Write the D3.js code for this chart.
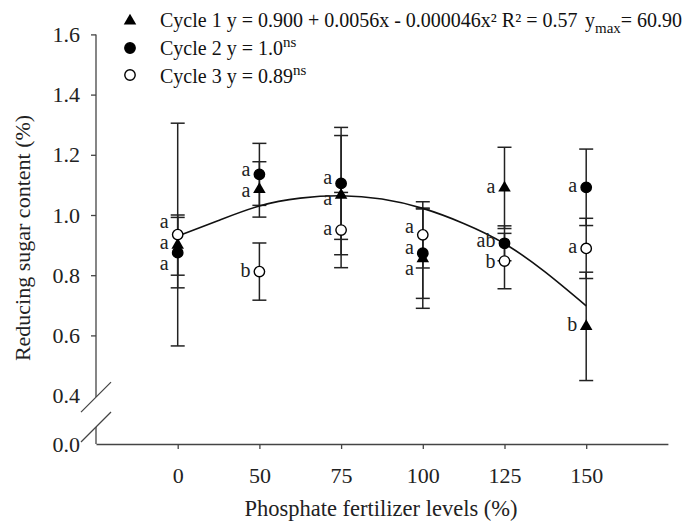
<!DOCTYPE html>
<html>
<head>
<meta charset="utf-8">
<script src="https://cdn.jsdelivr.net/npm/d3@7"></script>
<style>
  body { margin: 0; background: #fff; }
  svg { display: block; font-family: "Liberation Serif", "Times New Roman", serif; }
  .axis path, .axis line { stroke: #444; stroke-width: 1.3; }
  .axis text { font-size: 22px; fill: #222; font-family: "Liberation Serif", serif; }
</style>
</head>
<body>
<div id="chart"></div>
<script>
// ---------------------------- DATA ----------------------------//
const levels = [0, 50, 75, 100, 125, 150];
const levelLabels = ["0", "50", "75", "100", "125", "150"];
const yTicks = [0, 0.4, 0.6, 0.8, 1.0, 1.2, 1.4, 1.6];

const cycle1 = [0.90, 1.085, 1.066, 0.855, 1.09, 0.63];
const cycle1Err = [0.10, 0.092, 0.198, 0.165, 0.135, 0.18];
const cycle1Letters = ["a", "a", "a", "a", "a", "b"];

const cycle2 = [0.875, 1.135, 1.105, 0.873, 0.906, 1.092];
const cycle2Err = [0.117, 0.103, 0.186, 0.15, 0.058, 0.127];
const cycle2Letters = ["a", "a", "a", "a", "ab", "a"];

const cycle3 = [0.935, 0.812, 0.95, 0.934, 0.847, 0.889];
const cycle3Err = [0.37, 0.095, 0.125, 0.11, 0.092, 0.10];
const cycle3Letters = ["a", "b", "a", "a", "b", "a"];

// regression curve of cycle 1
const fitX = [0, 25, 50, 62.5, 75, 87.5, 100, 112.5, 125, 137.5, 150];
const fitY = [0.93, 0.982, 1.03, 1.056, 1.064, 1.053, 1.022, 0.972, 0.905, 0.81, 0.698];

// --------------------------- SETUP ----------------------------//
const width = 687, height = 523;
const x0 = 96, step = 81.7;      // one category step in px
const yTop = 34.4, yMid = 395.6, yBase = 444;

const svg = d3.select("#chart").append("svg")
    .attr("width", width)
    .attr("height", height);

// 0 sits one step left of 50, after that 25 units per step
const xScale = d3.scaleLinear()
    .domain([-50, 0, 50, 175])
    .range([x0, x0 + step, x0 + 2 * step, x0 + 7 * step]);

// broken axis: 0.0 .. 0.4 squeezed at the bottom
const yScale = d3.scaleLinear()
    .domain([0, 0.4, 1.6])
    .range([yBase, yMid, yTop]);

// ---------------------------- AXES ----------------------------//
svg.append("g")
    .attr("class", "axis")
    .attr("transform", "translate(0," + yBase + ")")
    .call(d3.axisBottom(xScale)
        .tickValues(levels)
        .tickFormat((d, i) => levelLabels[i])
        .tickSize(5)
        .tickSizeOuter(0)
        .tickPadding(18));

const yAxis = svg.append("g")
    .attr("class", "axis")
    .attr("transform", "translate(" + x0 + ",0)")
    .call(d3.axisLeft(yScale)
        .tickValues(yTicks)
        .tickFormat(d3.format(".1f"))
        .tickSize(5)
        .tickPadding(11));
yAxis.select(".domain").remove();
yAxis.selectAll(".tick")
    .filter(d => d < 0.5)
    .select("line").remove();

// axis line with the break
const brk1 = yScale(0.4) + 1.5, brk2 = yScale(0) - 17;
svg.append("line")
    .attr("x1", x0).attr("x2", x0)
    .attr("y1", yScale(1.6)).attr("y2", brk1)
    .attr("stroke", "#444").attr("stroke-width", 1.3);
svg.append("line")
    .attr("x1", x0).attr("x2", x0)
    .attr("y1", brk2).attr("y2", yBase)
    .attr("stroke", "#444").attr("stroke-width", 1.3);
[brk1, brk2].forEach(function(b) {
    svg.append("line")
        .attr("x1", x0 - 15).attr("y1", b + 15)
        .attr("x2", x0 + 15).attr("y2", b - 15)
        .attr("stroke", "#444").attr("stroke-width", 1.3);
});

svg.append("text")
    .attr("transform", "translate(30,238) rotate(-90)")
    .attr("text-anchor", "middle")
    .style("font-size", "22px")
    .attr("fill", "#222")
    .text("Reducing sugar content (%)");

svg.append("text")
    .attr("x", 381)
    .attr("y", 516)
    .attr("text-anchor", "middle")
    .style("font-size", "22.5px")
    .attr("fill", "#222")
    .text("Phosphate fertilizer levels (%)");

// --------------------------- SERIES ---------------------------//
const series = [
    { id: "c1", shape: "tri", vals: cycle1, err: cycle1Err, letters: cycle1Letters },
    { id: "c2", shape: "dot", vals: cycle2, err: cycle2Err, letters: cycle2Letters },
    { id: "c3", shape: "open", vals: cycle3, err: cycle3Err, letters: cycle3Letters }
];

// error bars
const cap = 7;
series.forEach(function(s) {
    const g = svg.append("g").attr("class", "err-" + s.id)
        .attr("stroke", "#222").attr("stroke-width", 1.5);
    levels.forEach(function(lv, i) {
        const xx = xScale(lv);
        const hi = yScale(s.vals[i] + s.err[i]);
        const lo = yScale(s.vals[i] - s.err[i]);
        g.append("line").attr("x1", xx).attr("x2", xx).attr("y1", hi).attr("y2", lo);
        g.append("line").attr("x1", xx - cap).attr("x2", xx + cap).attr("y1", hi).attr("y2", hi);
        g.append("line").attr("x1", xx - cap).attr("x2", xx + cap).attr("y1", lo).attr("y2", lo);
    });
});

// fitted curve
const line = d3.line()
    .x((d, i) => xScale(fitX[i]))
    .y(d => yScale(d))
    .curve(d3.curveNatural);
svg.append("path")
    .attr("d", line(fitY))
    .attr("fill", "none")
    .attr("stroke", "#111")
    .attr("stroke-width", 1.6);

// markers
const triangle = d3.symbol().type(d3.symbolTriangle).size(68);
function drawMarker(g, shape, xx, yy) {
    if (shape === "tri") {
        g.append("path").attr("d", triangle())
            .attr("transform", "translate(" + xx + "," + yy + ")")
            .attr("fill", "#000");
    } else {
        g.append("circle").attr("cx", xx).attr("cy", yy).attr("r", 5.2)
            .attr("fill", shape === "dot" ? "#000" : "#fff")
            .attr("stroke", "#000").attr("stroke-width", 1.4);
    }
}
series.forEach(function(s) {
    const g = svg.append("g").attr("class", "pts-" + s.id);
    levels.forEach(function(lv, i) {
        drawMarker(g, s.shape, xScale(lv), yScale(s.vals[i]));
    });
});

// significance letters, pushed apart where they would overlap
const gap = 21;
const letterG = svg.append("g")
    .style("font-size", "20px")
    .attr("fill", "#222")
    .attr("text-anchor", "end");
levels.forEach(function(lv, i) {
    const items = series.map(s => ({ y: yScale(s.vals[i]), ly: yScale(s.vals[i]), t: s.letters[i] }))
        .sort((a, b) => a.y - b.y);
    for (let it = 0; it < 50; it++) {
        for (let k = 1; k < items.length; k++) {
            const d = items[k].ly - items[k - 1].ly;
            if (d < gap) {
                const sh = (gap - d) / 2;
                items[k - 1].ly -= sh;
                items[k].ly += sh;
            }
        }
    }
    items.forEach(function(o) {
        letterG.append("text")
            .attr("x", xScale(lv) - 9)
            .attr("y", o.ly)
            .attr("dy", "0.25em")
            .text(o.t);
    });
});

// --------------------------- LEGEND ---------------------------//
const legend = svg.append("g").style("font-size", "20px").attr("fill", "#111");
const legRows = [
    { shape: "tri", y: 27, my: 21 },
    { shape: "dot", y: 55, my: 48 },
    { shape: "open", y: 83, my: 75 }
];
legRows.forEach(r => drawMarker(legend, r.shape, 130, r.my));

legend.append("text").attr("x", 160).attr("y", legRows[0].y)
    .text("Cycle 1 y = 0.900 + 0.0056x - 0.000046x\u00B2 R\u00B2 = 0.57");
const ymax = legend.append("text").attr("x", 585).attr("y", legRows[0].y);
ymax.append("tspan").text("y");
ymax.append("tspan").attr("dy", 6).style("font-size", "15px").text("max");
ymax.append("tspan").attr("dy", -6).text("= 60.90");

const l2 = legend.append("text").attr("x", 160).attr("y", legRows[1].y);
l2.append("tspan").text("Cycle 2 y = 1.0");
l2.append("tspan").attr("dy", -8).style("font-size", "15px").text("ns");

const l3 = legend.append("text").attr("x", 160).attr("y", legRows[2].y);
l3.append("tspan").text("Cycle 3 y = 0.89");
l3.append("tspan").attr("dy", -8).style("font-size", "15px").text("ns");
</script>
</body>
</html>
